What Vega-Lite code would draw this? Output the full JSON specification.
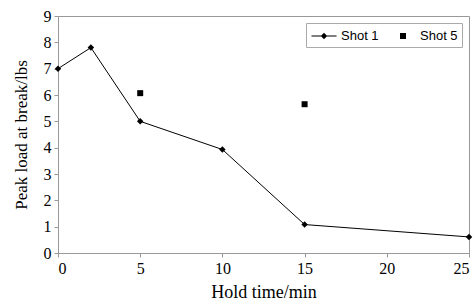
{
  "$schema": "https://vega.github.io/schema/vega-lite/v6.json",
  "width": 411,
  "height": 237,
  "autosize": {"type": "none"},
  "padding": {"left": 58, "top": 16, "right": 7, "bottom": 50},
  "background": "white",
  "data": {
    "values": [
      {"series": "Shot 1", "time": 0, "load": 7.0},
      {"series": "Shot 1", "time": 2, "load": 7.8},
      {"series": "Shot 1", "time": 5, "load": 5.0},
      {"series": "Shot 1", "time": 10, "load": 3.93},
      {"series": "Shot 1", "time": 15, "load": 1.08},
      {"series": "Shot 1", "time": 25, "load": 0.61},
      {"series": "Shot 5", "time": 5, "load": 6.07},
      {"series": "Shot 5", "time": 15, "load": 5.65}
    ]
  },
  "encoding": {
    "x": {
      "field": "time", "type": "quantitative",
      "scale": {"domain": [0, 25], "nice": false, "zero": false},
      "axis": {"values": [0, 5, 10, 15, 20, 25], "title": "Hold time/min", "titleFontSize": 18, "titlePadding": 7, "labelPadding": 3, "labelFont": "Liberation Serif", "labelFontSize": 16}
    },
    "y": {
      "field": "load", "type": "quantitative",
      "scale": {"domain": [0, 9], "nice": false},
      "axis": {"values": [0, 1, 2, 3, 4, 5, 6, 7, 8, 9], "title": "Peak load at break/lbs", "titleFontSize": 17, "titlePadding": 13, "labelPadding": 3, "labelFont": "Liberation Serif", "labelFontSize": 16}
    }
  },
  "layer": [
    {
      "transform": [{"filter": "datum.series === 'Shot 1'"}],
      "mark": {"type": "line", "color": "black", "strokeWidth": 1}
    },
    {
      "transform": [{"filter": "datum.series === 'Shot 1'"}],
      "mark": {"type": "point", "shape": "diamond", "filled": true, "color": "black", "opacity": 1, "size": 42}
    },
    {
      "transform": [{"filter": "datum.series === 'Shot 5'"}],
      "mark": {"type": "point", "filled": true, "color": "black", "opacity": 1, "size": 256},
      "encoding": {
        "shape": {
          "field": "series", "type": "nominal",
          "scale": {
            "domain": ["Shot 1", "Shot 5"],
            "range": ["M-1.5625,-0.0625H1.5625V0.0625H-1.5625ZM0,-0.4L0.4,0L0,0.4L-0.4,0Z", "M-0.375,-0.375H0.375V0.375H-0.375Z"]
          },
          "legend": {
            "title": null,
            "orient": "top-right",
            "offset": 7,
            "direction": "horizontal",
            "symbolSize": 256,
            "symbolFillColor": "black",
            "symbolOpacity": 1,
            "symbolOffset": 5,
            "labelFont": "Liberation Sans",
            "labelFontSize": 13,
            "labelColor": "black",
            "labelOffset": 8,
            "columnPadding": 10,
            "padding": 4,
            "strokeColor": "#aaaaaa",
            "fillColor": "white",
            "cornerRadius": 0
          }
        }
      }
    }
  ],
  "config": {
    "view": {"stroke": "#999999", "strokeWidth": 1},
    "axis": {
      "grid": false,
      "labelFont": "Liberation Serif",
      "labelFontSize": 16,
      "labelColor": "black",
      "titleFont": "Liberation Serif",
      "titleFontWeight": "normal",
      "titleColor": "black",
      "domainColor": "#999999",
      "tickColor": "#999999",
      "tickSize": 4
    }
  }
}
